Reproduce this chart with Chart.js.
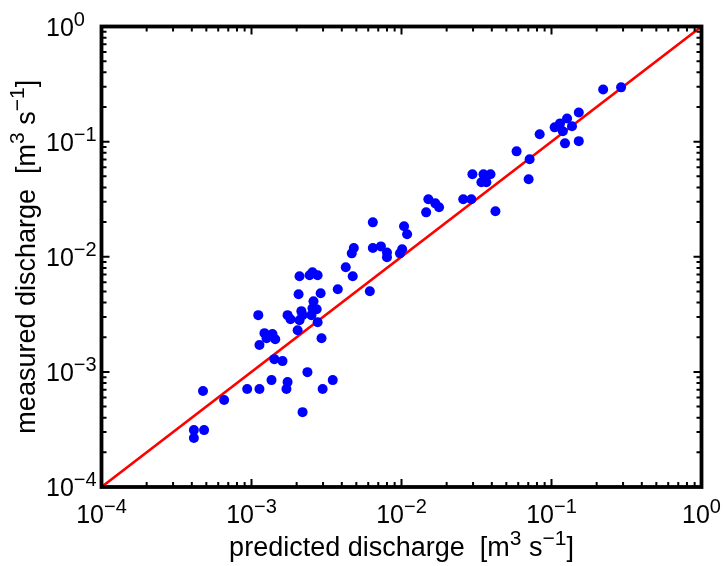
<!DOCTYPE html>
<html>
<head>
<meta charset="utf-8">
<script src="https://cdn.jsdelivr.net/npm/chart.js@4.4.0/dist/chart.umd.min.js"></script>
<style>
  html, body { margin: 0; padding: 0; background: #fff; }
  canvas { display: block; }
</style>
</head>
<body>
<canvas id="discharge" width="724" height="566"></canvas>
<script>
// predicted vs measured discharge, m3/s
const predicted = [
  4.13e-4, 4.13e-4, 4.83e-4, 4.75e-4, 6.57e-4, 9.36e-4, 1.13e-3, 1.36e-3, 1.74e-3, 1.71e-3,
  2.36e-3, 2.98e-3, 3.48e-3, 1.13e-3, 1.42e-3, 1.61e-3, 1.22e-3, 1.38e-3, 1.26e-3, 1.44e-3,
  1.11e-3, 2.03e-3, 1.74e-3, 1.82e-3, 2.09e-3, 2.15e-3, 2.19e-3, 2.51e-3, 2.55e-3, 2.72e-3,
  2.59e-3, 2.76e-3, 2.93e-3, 2.06e-3, 2.89e-3, 2.09e-3, 2.44e-3, 2.55e-3, 2.76e-3, 3.76e-3,
  4.25e-3, 4.73e-3, 6.15e-3, 4.66e-3, 4.81e-3, 6.44e-3, 7.29e-3, 8.0e-3, 8.0e-3, 9.77e-3,
  1.01e-2, 6.44e-3, 1.04e-2, 1.09e-2, 1.46e-2, 1.51e-2, 1.68e-2, 1.78e-2, 2.58e-2, 2.92e-2,
  2.97e-2, 3.52e-2, 3.92e-2, 3.41e-2, 3.68e-2, 4.23e-2, 5.85e-2, 7.15e-2, 7.04e-2, 8.34e-2,
  0.105, 0.114, 0.127, 0.119, 0.137, 0.123, 0.152, 0.152, 0.221, 0.291, 2.19e-3
];
const measured = [
  3.12e-4, 2.66e-4, 3.12e-4, 6.81e-4, 5.69e-4, 7.09e-4, 7.09e-4, 8.48e-4, 8.15e-4, 7.09e-4,
  9.95e-4, 7.09e-4, 8.48e-4, 1.71e-3, 1.29e-3, 1.24e-3, 2.17e-3, 2.13e-3, 1.96e-3, 1.92e-3,
  3.11e-3, 2.30e-3, 3.11e-3, 2.87e-3, 2.81e-3, 3.37e-3, 3.11e-3, 3.11e-3, 3.57e-3, 3.50e-3,
  4.11e-3, 2.70e-3, 1.96e-3, 4.73e-3, 4.82e-3, 6.77e-3, 6.91e-3, 7.34e-3, 6.91e-3, 5.22e-3,
  8.11e-3, 6.77e-3, 5.02e-3, 1.07e-2, 1.19e-2, 1.19e-2, 1.23e-2, 1.09e-2, 9.9e-3, 1.07e-2,
  1.16e-2, 1.99e-2, 1.84e-2, 1.57e-2, 2.43e-2, 3.16e-2, 2.91e-2, 2.69e-2, 3.16e-2, 3.16e-2,
  5.20e-2, 5.20e-2, 5.20e-2, 4.43e-2, 4.43e-2, 2.48e-2, 8.23e-2, 7.02e-2, 4.71e-2, 0.116,
  0.133, 0.144, 0.159, 0.123, 0.136, 0.0966, 0.179, 0.101, 0.284, 0.296, 4.47e-4
];
// 1:1 line
const oneToOne = [1e-4, 1];

const decades = [1e-4, 1e-3, 1e-2, 1e-1, 1];
const exponents = ['\u22124', '\u22123', '\u22122', '\u22121', '0'];
const xTitle = [['predicted discharge  [m', false], ['3', true], [' s', false], ['\u22121', true], [']', false]];
const yTitle = [['measured discharge  [m', false], ['3', true], [' s', false], ['\u22121', true], [']', false]];

const FONT = '"Liberation Sans", Arial, sans-serif';

function partsWidth(ctx, parts, base, sup) {
  let w = 0;
  parts.forEach(([t, s]) => { ctx.font = (s ? sup : base) + 'px ' + FONT; w += ctx.measureText(t).width; });
  return w;
}

function drawParts(ctx, parts, x, y, base, sup) {
  parts.forEach(([t, s]) => {
    ctx.font = (s ? sup : base) + 'px ' + FONT;
    ctx.fillText(t, x, s ? y - base * 0.4 : y);
    x += ctx.measureText(t).width;
  });
}

const frame = {
  id: 'frame',
  afterDraw(chart) {
    const { ctx, chartArea: a, scales: { x, y } } = chart;
    ctx.save();
    ctx.strokeStyle = '#000';
    ctx.fillStyle = '#000';
    ctx.textBaseline = 'alphabetic';
    ctx.textAlign = 'left';

    // inward ticks on all four sides
    ctx.lineWidth = 2;
    const ticks = [];
    decades.forEach((d, i) => {
      ticks.push([d, true]);
      if (i < decades.length - 1) for (let k = 2; k <= 9; k++) ticks.push([d * k, false]);
    });
    ctx.beginPath();
    ticks.forEach(([v, major]) => {
      const len = major ? 8 : 5;
      const px = x.getPixelForValue(v);
      const py = y.getPixelForValue(v);
      ctx.moveTo(px, a.bottom); ctx.lineTo(px, a.bottom - len);
      ctx.moveTo(px, a.top); ctx.lineTo(px, a.top + len);
      ctx.moveTo(a.left, py); ctx.lineTo(a.left + len, py);
      ctx.moveTo(a.right, py); ctx.lineTo(a.right - len, py);
    });
    ctx.stroke();

    ctx.lineWidth = 3.8;
    ctx.strokeRect(a.left, a.top, a.right - a.left, a.bottom - a.top);

    // tick labels
    decades.forEach((d, i) => {
      const parts = [['10', false], [exponents[i], true]];
      const w = partsWidth(ctx, parts, 25, 20);
      drawParts(ctx, parts, x.getPixelForValue(d) - w / 2, a.bottom + 36, 25, 20);
      drawParts(ctx, parts, 46, y.getPixelForValue(d) + 9, 25, 20);
    });

    // axis titles
    const xw = partsWidth(ctx, xTitle, 27, 21);
    drawParts(ctx, xTitle, (a.left + a.right) / 2 - xw / 2, 556, 27, 21);
    const yw = partsWidth(ctx, yTitle, 27, 21);
    ctx.translate(35, (a.top + a.bottom) / 2);
    ctx.rotate(-Math.PI / 2);
    drawParts(ctx, yTitle, -yw / 2, 0, 27, 21);
    ctx.restore();
  }
};

new Chart(document.getElementById('discharge'), {
  type: 'scatter',
  data: {
    datasets: [{
      label: 'measured vs predicted',
      data: predicted.map((p, i) => ({ x: p, y: measured[i] })),
      backgroundColor: '#0000ff',
      borderWidth: 0,
      pointRadius: 5,
      order: 0
    }, {
      label: '1:1',
      data: oneToOne.map(v => ({ x: v, y: v })),
      showLine: true,
      borderColor: '#ff0000',
      borderWidth: 2.6,
      pointRadius: 0,
      order: 1
    }]
  },
  options: {
    responsive: false,
    animation: false,
    layout: { padding: { left: 101.5, right: 22.5, top: 26.5, bottom: 79 } },
    scales: {
      x: { type: 'logarithmic', min: 1e-4, max: 1, display: false },
      y: { type: 'logarithmic', min: 1e-4, max: 1, display: false }
    },
    plugins: {
      legend: { display: false },
      tooltip: { enabled: false }
    }
  },
  plugins: [frame]
});
</script>
</body>
</html>
